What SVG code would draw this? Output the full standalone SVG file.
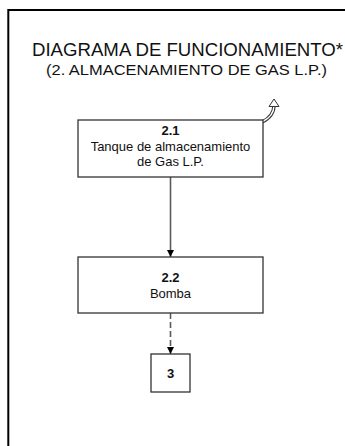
<svg xmlns="http://www.w3.org/2000/svg" width="345" height="446" viewBox="0 0 345 446">
  <style>
    .frame { fill: none; stroke: #000; stroke-width: 2; }
    .box { fill: #fff; stroke: #333; stroke-width: 1.3; }
    .t { font-family: "Liberation Sans", Arial, sans-serif; fill: #111; text-anchor: middle; }
    .title { font-size: 18px; }
    .sub { font-size: 15px; }
    .lbl { font-size: 13px; }
    .num { font-size: 13px; font-weight: bold; }
    .conn { fill: none; stroke: #5a5a5a; stroke-width: 1.6; }
    .dash { stroke-dasharray: 6 3; }
  </style>
  <defs>
    <marker id="arr" viewBox="0 0 10 10" refX="10" refY="5" markerWidth="7" markerHeight="7" markerUnits="userSpaceOnUse" orient="auto">
      <path d="M0,0 L10,5 L0,10 z" fill="#000"/>
    </marker>
  </defs>
  <rect class="frame" x="8.3" y="10" width="400" height="500"/>
  <g id="title">
    <text class="t title" x="187.5" y="56" textLength="311" lengthAdjust="spacingAndGlyphs">DIAGRAMA DE FUNCIONAMIENTO*</text>
    <text class="t sub" x="186.5" y="74.5" textLength="281" lengthAdjust="spacingAndGlyphs">(2. ALMACENAMIENTO DE GAS L.P.)</text>
  </g>
  <g id="connectors">
    <line class="conn" x1="170.5" y1="177" x2="170.5" y2="257" marker-end="url(#arr)"/>
    <line class="conn dash" x1="170.5" y1="313" x2="170.5" y2="354" marker-end="url(#arr)"/>
  </g>
  <g id="icon">
    <path d="M262,122 C270.5,118 274,112.5 274,105" fill="none" stroke="#333" stroke-width="3.4"/>
    <path d="M262,122 C270.5,118 274,112.5 274,105" fill="none" stroke="#fff" stroke-width="1.4"/>
    <path d="M269,106.5 L274,99 L279,106.5 Z" fill="#fff" stroke="#333" stroke-width="1"/>
  </g>
  <g id="node-2-1">
    <rect class="box" x="78" y="120" width="185" height="57"/>
    <text class="t num" x="170.5" y="135">2.1</text>
    <text class="t lbl" x="170.5" y="151">Tanque de almacenamiento</text>
    <text class="t lbl" x="170.5" y="166">de Gas L.P.</text>
  </g>
  <g id="node-2-2">
    <rect class="box" x="78" y="257" width="185" height="56"/>
    <text class="t num" x="170.5" y="282">2.2</text>
    <text class="t lbl" x="170.5" y="298">Bomba</text>
  </g>
  <g id="node-3">
    <rect class="box" x="151" y="354" width="39" height="38"/>
    <text class="t num" x="170.5" y="378">3</text>
  </g>
</svg>
